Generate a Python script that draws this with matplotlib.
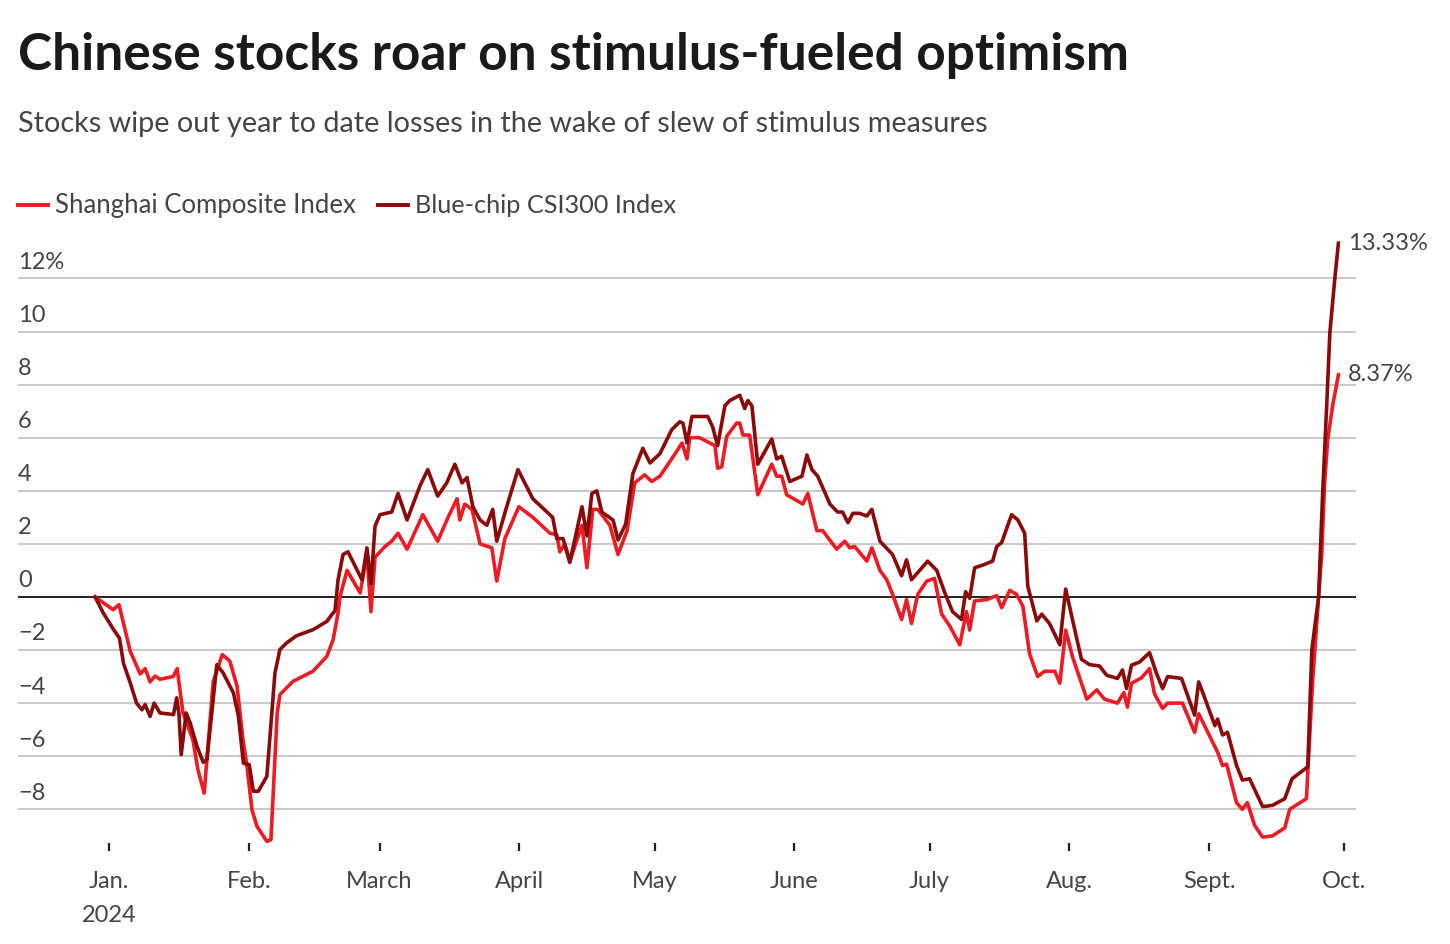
import pandas as pd
import matplotlib.pyplot as plt
from matplotlib.transforms import blended_transform_factory, offset_copy

plt.rcParams['font.family'] = ['Lato', 'DejaVu Sans']

TITLE = 'Chinese stocks roar on stimulus-fueled optimism'
SUBTITLE = 'Stocks wipe out year to date losses in the wake of slew of stimulus measures'

# days after 1 Jan 2024, and % change since the end of 2023
sse_days = [-3.1, 0.9, 2.2, 4.7, 6.9, 8.0, 9.1, 10.2, 11.3, 14.2, 15.1, 16.4, 18.6, 19.7,
            21.1, 23.1, 25.1, 26.8, 28.4, 29.7, 30.6, 31.7, 32.8, 35.0, 35.9, 37.3, 37.9,
            40.8, 45.2, 48.3, 49.7, 50.8, 51.2, 52.8, 55.7, 57.2, 58.1, 59.0, 61.2, 62.7,
            64.1, 66.1, 69.6, 72.9, 75.2, 77.2, 77.8, 78.9, 80.5, 82.3, 84.9, 86.0, 87.8,
            90.9, 94.0, 97.8, 99.3, 100.0, 101.1, 102.2, 104.9, 106.0, 107.3, 108.4, 111.1,
            112.9, 114.9, 116.6, 118.8, 120.4, 122.2, 124.8, 127.1, 128.2, 128.8, 131.0,
            134.4, 135.0, 135.9, 137.0, 139.2, 139.9, 140.6, 142.1, 143.9, 147.0, 148.1,
            149.2, 150.3, 153.9, 155.0, 157.0, 158.3, 161.4, 163.2, 164.3, 165.4, 168.1,
            169.2, 171.0, 172.5, 173.8, 175.8, 176.9, 178.0, 179.4, 181.4, 183.1, 184.7,
            186.5, 188.7, 190.2, 190.9, 192.0, 194.7, 196.9, 198.0, 199.8, 201.3, 202.7,
            204.2, 206.0, 207.5, 209.8, 210.9, 212.2, 213.7, 216.9, 219.1, 220.8, 223.7,
            225.1, 225.9, 226.8, 229.0, 230.8, 231.9, 233.7, 234.8, 238.1, 240.8, 241.7,
            244.6, 245.9, 247.0, 247.9, 250.1, 251.4, 252.5, 254.1, 255.9, 258.1, 260.8,
            261.9, 265.6, 267.0, 268.3, 269.0, 269.6, 270.3, 271.4, 272.7]
sse_pct = [0.0, -0.48, -0.29, -2.05, -2.9, -2.7, -3.2, -2.98, -3.1, -3.0, -2.7, -4.37, -5.38, -6.5,
           -7.39, -3.2, -2.17, -2.42, -3.37, -5.38, -6.38, -8.02, -8.64, -9.21, -9.15, -4.37, -3.68,
           -3.18, -2.8, -2.24, -1.61, -0.6, 0.0, 1.0, 0.15, 1.6, -0.55, 1.5, 1.9, 2.1,
           2.4, 1.8, 3.1, 2.1, 3.0, 3.7, 2.9, 3.5, 3.3, 2.0, 1.85, 0.6, 2.2,
           3.4, 3.0, 2.4, 2.35, 1.7, 2.0, 1.35, 2.7, 1.1, 3.3, 3.3, 2.7,
           1.6, 2.5, 4.3, 4.6, 4.35, 4.55, 5.2, 5.8, 5.2, 6.0, 6.0,
           5.7, 4.85, 4.9, 6.05, 6.55, 6.55, 6.1, 6.1, 3.85, 5.0, 4.55,
           4.55, 3.85, 3.5, 3.9, 2.5, 2.5, 1.8, 2.1, 1.85, 1.9, 1.35,
           1.85, 1.0, 0.65, 0.1, -0.85, -0.1, -1.0, 0.1, 0.6, 0.7, -0.65,
           -1.1, -1.8, -0.55, -1.25, -0.15, -0.1, 0.05, -0.4, 0.25, 0.1, -0.35,
           -2.15, -3.0, -2.8, -2.8, -3.25, -1.25, -2.25, -3.85, -3.5, -3.85, -4.0,
           -3.6, -4.15, -3.25, -3.05, -2.7, -3.65, -4.2, -4.0, -4.0, -5.1, -4.4,
           -5.4, -5.85, -6.35, -6.3, -7.75, -8.0, -7.75, -8.6, -9.05, -9.0, -8.7,
           -8.0, -7.6, -3.1, 0.0, 1.65, 4.2, 5.9, 7.2, 8.37]

csi_days = [-3.1, -1.3, 1.0, 2.3, 3.2, 4.7, 6.1, 7.3, 8.0, 9.1, 10.0, 11.3, 14.3, 15.0,
            15.5, 16.0, 17.1, 18.0, 19.5, 20.9, 21.7, 23.9, 25.3, 27.6, 28.7, 29.8, 31.1,
            32.0, 33.1, 35.0, 36.1, 36.8, 37.9, 39.4, 41.6, 45.3, 48.3, 49.7, 50.1, 50.8,
            51.9, 53.0, 56.1, 57.2, 58.1, 59.0, 60.1, 62.7, 64.1, 66.1, 69.0, 70.7, 72.9,
            74.9, 76.7, 78.3, 79.4, 80.7, 82.3, 83.8, 85.1, 86.0, 88.2, 90.7, 94.0, 98.4,
            99.3, 100.7, 102.2, 104.9, 106.0, 107.1, 108.2, 109.3, 111.8, 112.9, 114.6,
            116.2, 118.4, 120.0, 122.2, 124.8, 126.6, 127.3, 128.2, 129.3, 132.8, 133.9,
            135.0, 136.6, 137.7, 139.9, 141.0, 141.7, 142.6, 143.9, 147.0, 148.1, 149.2,
            151.0, 153.7, 154.8, 155.9, 157.2, 159.9, 161.6, 162.7, 163.9, 165.0, 166.5,
            168.1, 169.2, 171.0, 173.8, 175.8, 176.9, 178.0, 179.8, 181.6, 183.6, 185.4,
            187.1, 189.1, 190.0, 190.9, 192.0, 193.8, 196.0, 196.9, 198.0, 200.2, 201.6,
            203.1, 203.8, 205.8, 206.9, 208.6, 210.9, 212.2, 213.7, 215.7, 217.5, 219.7,
            221.3, 223.7, 224.8, 225.7, 226.8, 228.6, 230.8, 232.4, 233.7, 234.8, 237.9,
            240.8, 241.7, 242.6, 245.3, 245.9, 247.0, 248.1, 250.1, 251.4, 253.0, 255.9,
            258.1, 260.8, 262.4, 265.9, 266.8, 268.3, 269.2, 270.1, 270.8, 271.9, 272.7]
csi_pct = [0.0, -0.6, -1.23, -1.55, -2.5, -3.24, -4.0, -4.25, -4.06, -4.5, -4.0, -4.37, -4.43, -3.8,
           -4.4, -5.94, -4.37, -4.75, -5.63, -6.23, -6.13, -2.55, -2.86, -3.62, -4.5, -6.26, -6.32,
           -7.32, -7.32, -6.76, -4.37, -2.86, -1.98, -1.73, -1.46, -1.23, -0.92, -0.6, -0.54, 0.65,
           1.6, 1.7, 0.65, 1.85, 0.5, 2.67, 3.1, 3.2, 3.9, 2.9, 4.2, 4.8, 3.8,
           4.3, 5.0, 4.3, 4.5, 3.4, 2.9, 2.7, 3.3, 2.1, 3.4, 4.8, 3.7, 3.0,
           2.2, 2.2, 1.3, 3.4, 2.3, 3.9, 4.0, 3.2, 2.9, 2.15, 2.75,
           4.65, 5.6, 5.05, 5.4, 6.3, 6.6, 6.55, 5.8, 6.8, 6.8, 6.4,
           5.7, 7.2, 7.4, 7.6, 7.1, 7.4, 7.2, 5.0, 5.95, 5.2, 5.3,
           4.35, 4.55, 5.35, 4.8, 4.55, 3.5, 3.2, 3.2, 2.8, 3.15, 3.15,
           3.05, 3.3, 2.1, 1.6, 0.8, 1.4, 0.65, 1.0, 1.35, 1.0, 0.15,
           -0.55, -0.85, 0.2, -0.05, 1.1, 1.2, 1.35, 1.9, 2.05, 3.1, 2.9,
           2.4, 0.4, -0.9, -0.65, -1.0, -1.8, 0.3, -0.85, -2.35, -2.55, -2.6,
           -2.95, -3.07, -2.75, -3.45, -2.57, -2.45, -2.1, -2.9, -3.45, -3.0, -3.07,
           -4.45, -3.2, -3.6, -4.85, -4.6, -5.2, -5.1, -6.35, -6.9, -6.85, -7.9,
           -7.85, -7.6, -6.85, -6.4, -2.0, 0.0, 3.9, 7.2, 9.95, 12.0, 13.33]

month_ticks = ['2024-01-01', '2024-02-01', '2024-03-01', '2024-04-01', '2024-05-01',
               '2024-06-01', '2024-07-01', '2024-08-01', '2024-09-01', '2024-10-01']
month_labels = ['Jan.\n2024', 'Feb.', 'March', 'April', 'May', 'June', 'July', 'Aug.',
                'Sept.', 'Oct.']
y_ticks = [-8, -6, -4, -2, 0, 2, 4, 6, 8, 10, 12]

RED = '#ec1b24'
DARK = '#8a0a0a'
GREY = '#444444'

start = pd.Timestamp('2024-01-01')
sse_dates = start + pd.to_timedelta(sse_days, unit='D')
csi_dates = start + pd.to_timedelta(csi_days, unit='D')

W, H = 1450, 944
fig = plt.figure(figsize=(W / 100, H / 100), dpi=100)
ax = fig.add_axes([18 / W, 1 - 843 / H, (1356 - 18) / W, (843 - 236) / H])

for v in y_ticks:
    ax.axhline(v, color='#222222' if v == 0 else '#c8c8c8', lw=1.4, zorder=1)

ax.plot(sse_dates, sse_pct, color=RED, lw=2.6, zorder=3, clip_on=False,
        solid_joinstyle='round')
ax.plot(csi_dates, csi_pct, color=DARK, lw=2.6, zorder=4, clip_on=False,
        solid_joinstyle='round')

ax.set_xlim(start - pd.Timedelta(days=20.2), start + pd.Timedelta(days=276.6))
ax.set_ylim(-9.27, 13.6)

for s in ax.spines.values():
    s.set_visible(False)
ax.set_yticks([])
ax.set_xticks(pd.to_datetime(month_ticks))
ax.set_xticklabels(month_labels, fontsize=17, color=GREY, linespacing=1.75)
ax.tick_params(axis='x', length=6, width=1.6, color='#222222', pad=14)

# y labels sit just above their gridlines
trans = offset_copy(blended_transform_factory(ax.transAxes, ax.transData),
                    fig=fig, x=0, y=4, units='points')
for v in y_ticks:
    lab = f'{v}%' if v == 12 else str(v).replace('-', '\u2212')
    ax.text(0, v, lab, transform=trans, ha='left', va='bottom', fontsize=17,
            color=GREY)

# end values
ax.annotate(f'{csi_pct[-1]:.2f}%', (csi_dates[-1], csi_pct[-1]), xytext=(7, 0),
            textcoords='offset points', va='center', ha='left', fontsize=17,
            color=GREY)
ax.annotate(f'{sse_pct[-1]:.2f}%', (sse_dates[-1], sse_pct[-1]), xytext=(7, 0),
            textcoords='offset points', va='center', ha='left', fontsize=17,
            color=GREY)

fig.text(18 / W, 1 - 70 / H, TITLE, fontsize=37, fontweight='bold', color='#1a1a1a',
         va='baseline', ha='left')
fig.text(18 / W, 1 - 132 / H, SUBTITLE, fontsize=20.7, fontweight='normal', color=GREY,
         va='baseline', ha='left')

# legend
fig.add_artist(plt.Line2D([18 / W, 48 / W], [1 - 205 / H] * 2, color=RED, lw=2.8))
fig.text(55 / W, 1 - 213 / H, 'Shanghai Composite Index', fontsize=18.5, color=GREY,
         va='baseline', ha='left')
fig.add_artist(plt.Line2D([378 / W, 408 / W], [1 - 205 / H] * 2, color=DARK, lw=2.8))
fig.text(415 / W, 1 - 213 / H, 'Blue-chip CSI300 Index', fontsize=18.2, color=GREY,
         va='baseline', ha='left')

fig.savefig('out.png', dpi=100)
plt.close(fig)
